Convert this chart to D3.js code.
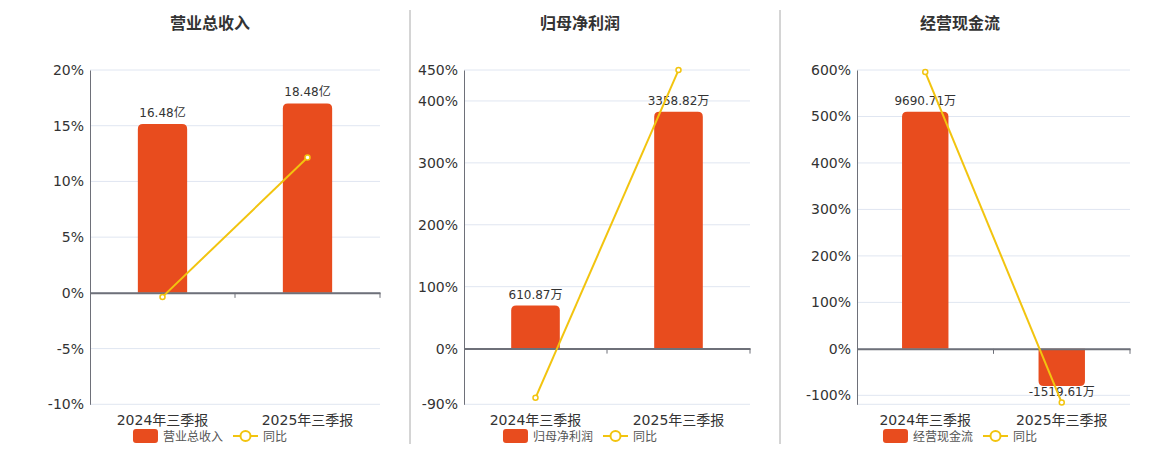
<!DOCTYPE html>
<html><head><meta charset="utf-8">
<script src="https://cdn.jsdelivr.net/npm/d3@7/dist/d3.min.js"></script>
<style>
html,body{margin:0;padding:0;background:#fff;}
svg{display:block;font-family:"DejaVu Sans","Noto Sans CJK SC",sans-serif;}
</style></head>
<body>
<svg id="c" width="1160" height="450"></svg>
<script>
// ---- data ----
const categories = ["2024年三季报", "2025年三季报"];
const titles = ["营业总收入", "归母净利润", "经营现金流"];
const barValues1 = [16.48, 18.48];          // 亿
const barValues2 = [610.87, 3358.82];       // 万
const barValues3 = [9690.71, -1519.61];     // 万
const barLabels1 = ["16.48亿", "18.48亿"];
const barLabels2 = ["610.87万", "3358.82万"];
const barLabels3 = ["9690.71万", "-1519.61万"];
const yoy1 = [-0.36, 12.14];
const yoy2 = [-79.5, 449.8];
const yoy3 = [595.5, -115.68];
const ticks1 = [-10, -5, 0, 5, 10, 15, 20];
const ticks2 = [-90, 0, 100, 200, 300, 400, 450];
const ticks3 = [-100, 0, 100, 200, 300, 400, 500, 600];
const yDomain1 = [-10, 20];
const yDomain2 = [-90, 450];
const yDomain3 = [-119.3, 600];
const legendYoy = "同比";

const panels = [
  {title: titles[0], bars: barValues1, labels: barLabels1, yoy: yoy1, ticks: ticks1, dom: yDomain1, x0: 90, x1: 380, cx: 210},
  {title: titles[1], bars: barValues2, labels: barLabels2, yoy: yoy2, ticks: ticks2, dom: yDomain2, x0: 464, x1: 750, cx: 580},
  {title: titles[2], bars: barValues3, labels: barLabels3, yoy: yoy3, ticks: ticks3, dom: yDomain3, x0: 857, x1: 1130, cx: 960}
];

const BAR = "#E84C1E", LINE = "#F2C40F", AX = "#6e7079", GRID = "#e0e6f1", TXT = "#333";
const plotTop = 70, plotBottom = 404.3;
const svg = d3.select("#c");

// separators
[410, 780].forEach(x => svg.append("line").attr("x1", x).attr("x2", x).attr("y1", 10).attr("y2", 444)
  .attr("stroke", "#aaa").attr("stroke-width", 1));

function barPath(x, w, y0, y1, r) {
  const h = Math.abs(y1 - y0);
  r = Math.min(r, h, w / 2);
  if (y1 < y0) {
    return `M${x},${y0}V${y1 + r}Q${x},${y1} ${x + r},${y1}H${x + w - r}Q${x + w},${y1} ${x + w},${y1 + r}V${y0}Z`;
  } else {
    return `M${x},${y0}V${y1 - r}Q${x},${y1} ${x + r},${y1}H${x + w - r}Q${x + w},${y1} ${x + w},${y1 - r}V${y0}Z`;
  }
}

panels.forEach(p => {
  const g = svg.append("g");
  const y = d3.scaleLinear().domain(p.dom).range([plotBottom, plotTop]);
  const x = d3.scaleBand().domain(categories).range([p.x0, p.x1]).paddingInner(0).paddingOuter(0);
  const zeroY = y(0);
  const maxBar = d3.max(p.bars);
  const yb = d3.scaleLinear().domain([0, maxBar / 0.85]).range([zeroY, plotTop]);

  // title
  g.append("text").attr("x", p.cx).attr("y", 29).attr("text-anchor", "middle")
    .attr("font-size", 16).attr("font-weight", "bold").attr("fill", TXT).text(p.title);

  // grid
  const gridVals = Array.from(new Set([...p.ticks, p.dom[0], p.dom[1]]));
  g.selectAll(".grid").data(gridVals).join("line")
    .attr("x1", p.x0).attr("x2", p.x1).attr("y1", d => y(d)).attr("y2", d => y(d))
    .attr("stroke", GRID).attr("stroke-width", 1);

  // y axis
  const yAxis = d3.axisLeft(y).tickValues(p.ticks).tickFormat(d => d + "%").tickSize(0).tickPadding(6);
  const ya = g.append("g").attr("transform", `translate(${p.x0},0)`).call(yAxis);
  ya.select(".domain").attr("stroke", AX);
  ya.selectAll("text").attr("font-size", 14).attr("fill", TXT);
  ya.attr("font-family", null).attr("font-size", null);

  // bars
  const bw = x.bandwidth() * 0.34;
  p.bars.forEach((v, i) => {
    const bx = x(categories[i]) + (x.bandwidth() - bw) / 2;
    g.append("path").attr("d", barPath(bx, bw, zeroY, yb(v), 5)).attr("fill", BAR);
    const ly = v >= 0 ? yb(v) - 7 : yb(v) + 10;
    g.append("text").attr("x", bx + bw / 2).attr("y", ly).attr("text-anchor", "middle")
      .attr("font-size", 12).attr("fill", TXT).text(p.labels[i]);
  });

  // x axis at zero
  const xAxis = d3.axisBottom(x).tickSize(0).tickFormat("");
  const xa = g.append("g").attr("transform", `translate(0,${zeroY})`).call(xAxis);
  xa.select(".domain").attr("stroke", AX).attr("stroke-width", 2);
  const bounds = categories.map(c => x(c) + x.bandwidth());
  g.selectAll(".xt").data(bounds).join("line")
    .attr("x1", d => d).attr("x2", d => d).attr("y1", zeroY).attr("y2", zeroY + 5)
    .attr("stroke", AX).attr("stroke-width", 1);
  categories.forEach(c => {
    g.append("text").attr("x", x(c) + x.bandwidth() / 2).attr("y", 425).attr("text-anchor", "middle")
      .attr("font-size", 14).attr("fill", TXT).text(c);
  });

  // line
  const pts = p.yoy.map((v, i) => [x(categories[i]) + x.bandwidth() / 2, y(v)]);
  g.append("path").attr("d", d3.line()(pts)).attr("fill", "none").attr("stroke", LINE).attr("stroke-width", 2);
  g.selectAll(".pt").data(pts).join("circle").attr("cx", d => d[0]).attr("cy", d => d[1]).attr("r", 2.5)
    .attr("fill", "#fff").attr("stroke", LINE).attr("stroke-width", 1.5);

  // legend
  const lg = g.append("g");
  const t1 = lg.append("text").attr("y", 441).attr("font-size", 12).attr("fill", "#555").text(p.title);
  const t2 = lg.append("text").attr("y", 441).attr("font-size", 12).attr("fill", "#555").text(legendYoy);
  const w1 = t1.node().getComputedTextLength(), w2 = t2.node().getComputedTextLength();
  const total = 25 + 5 + w1 + 10 + 25 + 5 + w2;
  let lx = p.cx - total / 2;
  lg.append("rect").attr("x", lx).attr("y", 429).attr("width", 25).attr("height", 14).attr("rx", 3).attr("fill", BAR);
  t1.attr("x", lx + 30);
  lx = lx + 30 + w1 + 10;
  lg.append("line").attr("x1", lx).attr("x2", lx + 25).attr("y1", 436).attr("y2", 436).attr("stroke", LINE).attr("stroke-width", 2);
  lg.append("circle").attr("cx", lx + 12.5).attr("cy", 436).attr("r", 5).attr("fill", "#fff").attr("stroke", LINE).attr("stroke-width", 2);
  t2.attr("x", lx + 30);
});
</script>
</body></html>
